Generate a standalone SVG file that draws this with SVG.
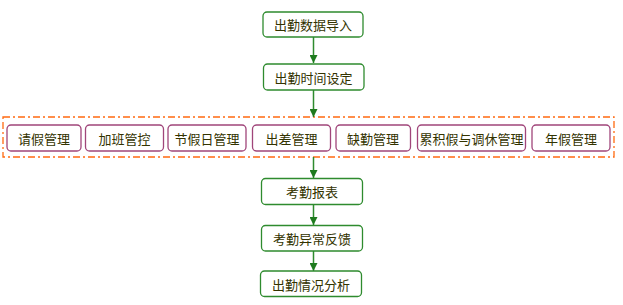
<svg xmlns="http://www.w3.org/2000/svg" width="623" height="305" viewBox="0 0 623 305">
<style>
.g rect{fill:#fff;stroke:#2E8B2E;stroke-width:1.3}
.p rect{fill:#fff;stroke:#A0457A;stroke-width:1.3}
text{font-family:"Noto Sans CJK SC","Liberation Sans",sans-serif;font-size:13px;fill:#333300;text-anchor:middle;dominant-baseline:central}
.c line{stroke:#2E8B2E;stroke-width:1.5}
</style>
<defs>
<marker id="ah" viewBox="0 0 8 8" refX="8" refY="4" markerWidth="8" markerHeight="8" markerUnits="userSpaceOnUse" orient="auto">
<path d="M0,0 L8,4 L0,8 z" fill="#1E7B1E"/>
</marker>
</defs>
<rect x="3" y="117" width="611" height="40" fill="none" stroke="#FF6A10" stroke-width="1.3" stroke-dasharray="7 3 2 3"/>
<g class="c">
<line x1="313.5" y1="37" x2="313.5" y2="63" marker-end="url(#ah)"/>
<line x1="313.5" y1="90" x2="313.5" y2="117" marker-end="url(#ah)"/>
<line x1="313.5" y1="157" x2="313.5" y2="178" marker-end="url(#ah)"/>
<line x1="313.5" y1="204" x2="313.5" y2="225" marker-end="url(#ah)"/>
<line x1="313.5" y1="251" x2="313.5" y2="271" marker-end="url(#ah)"/>
</g>
<g id="n1" class="g"><rect x="263" y="12" width="100" height="25" rx="4"/><text x="313" y="24.5">出勤数据导入</text></g>
<g id="n2" class="g"><rect x="263.5" y="64" width="100.5" height="26" rx="4"/><text x="313.5" y="77">出勤时间设定</text></g>
<g id="m1" class="p"><rect x="7" y="125" width="74" height="26" rx="4"/><text x="44" y="138">请假管理</text></g>
<g id="m2" class="p"><rect x="85.5" y="125" width="78" height="26" rx="4"/><text x="124.5" y="138">加班管控</text></g>
<g id="m3" class="p"><rect x="168" y="125" width="78" height="26" rx="4"/><text x="207" y="138">节假日管理</text></g>
<g id="m4" class="p"><rect x="252.5" y="125" width="78" height="26" rx="4"/><text x="291.5" y="138">出差管理</text></g>
<g id="m5" class="p"><rect x="336" y="125" width="74.5" height="26" rx="4"/><text x="373" y="138">缺勤管理</text></g>
<g id="m6" class="p"><rect x="417.5" y="125" width="108" height="26" rx="4"/><text x="471.5" y="138">累积假与调休管理</text></g>
<g id="m7" class="p"><rect x="532" y="125" width="78" height="26" rx="4"/><text x="571" y="138">年假管理</text></g>
<g id="n3" class="g"><rect x="261.5" y="178.5" width="101" height="26" rx="4"/><text x="312" y="191.5">考勤报表</text></g>
<g id="n4" class="g"><rect x="261.5" y="225.5" width="101" height="25.5" rx="4"/><text x="312" y="238">考勤异常反馈</text></g>
<g id="n5" class="g"><rect x="260.5" y="271" width="101" height="25.5" rx="4"/><text x="311" y="284">出勤情况分析</text></g>
</svg>
